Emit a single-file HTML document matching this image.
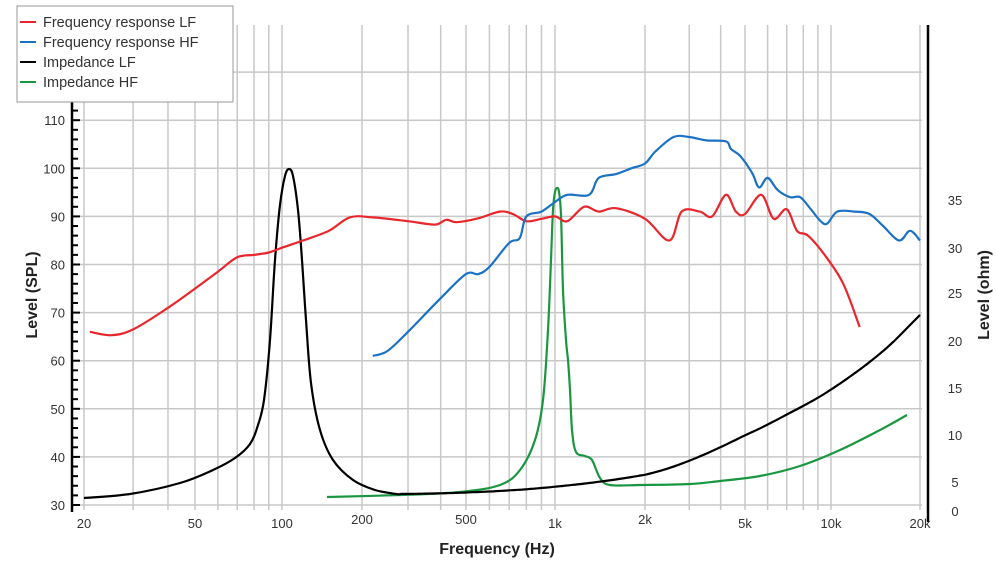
<!DOCTYPE html>
<html><head><meta charset="utf-8"><style>
body{margin:0;background:#fff;}
svg{display:block;font-family:"Liberation Sans",sans-serif;}
</style></head><body>
<svg id="s" width="996" height="564" viewBox="0 0 996 564"></svg>
<script>
const S=document.getElementById('s');
const fx=[[20,84],[50,195],[100,282],[200,362],[500,466],[1000,555],[2000,645],[5000,745],[10000,831],[20000,920]];
function X(f){for(let i=0;i<fx.length-1;i++){const[a,xa]=fx[i],[b,xb]=fx[i+1];if(f<=b||i==fx.length-2){return xa+(Math.log(f/a)/Math.log(b/a))*(xb-xa);}}}
function Y(d){return 505-(d-30)*4.81;}
let h='';
const fr=[20,30,40,50,60,70,80,90,100,200,300,400,500,600,700,800,900,1000,2000,3000,4000,5000,6000,7000,8000,9000,10000,20000];
fr.forEach(f=>{h+=`<line x1="${X(f)}" y1="25" x2="${X(f)}" y2="510" stroke="#c8c8c8" stroke-width="1.5"/>`;});
for(let d=30;d<=120;d+=10){h+=`<line x1="72" y1="${Y(d)}" x2="922" y2="${Y(d)}" stroke="#c8c8c8" stroke-width="1.5"/>`;}
h+=`<line x1="72" y1="100" x2="72" y2="512" stroke="#000" stroke-width="2.5"/>`;
for(let d=30;d<=114;d+=2){h+=`<line x1="72" y1="${Y(d)}" x2="${d%10==0?80:78}" y2="${Y(d)}" stroke="#000" stroke-width="2"/>`;}
for(let d=30;d<=110;d+=10){h+=`<text x="65" y="${Y(d)+5}" font-size="13" text-anchor="end" fill="#333">${d}</text>`;}
h+=`<line x1="928" y1="25" x2="928" y2="522" stroke="#000" stroke-width="2.5"/>`;
[[0,516],[5,487],[10,440],[15,393],[20,346],[25,298],[30,253],[35,205]].forEach(([v,y])=>{h+=`<text x="955" y="${y}" font-size="13" text-anchor="middle" fill="#333">${v}</text>`;});
[[20,'20'],[50,'50'],[100,'100'],[200,'200'],[500,'500'],[1000,'1k'],[2000,'2k'],[5000,'5k'],[10000,'10k'],[20000,'20k']].forEach(([f,t])=>{h+=`<text x="${X(f)}" y="${f==200||f==500||f==2000?524:528}" font-size="13" text-anchor="middle" fill="#333">${t}</text>`;});
h+=`<text x="497" y="554" font-size="16" font-weight="bold" text-anchor="middle" fill="#222">Frequency (Hz)</text>`;
h+=`<text transform="translate(37,295) rotate(-90)" font-size="16" font-weight="bold" text-anchor="middle" fill="#222">Level (SPL)</text>`;
h+=`<text transform="translate(989,295) rotate(-90)" font-size="16" font-weight="bold" text-anchor="middle" fill="#222">Level (ohm)</text>`;
function path(pts,c){let d=`M${pts[0][0]},${pts[0][1]}`;for(let i=0;i<pts.length-1;i++){const p0=pts[Math.max(0,i-1)],p1=pts[i],p2=pts[i+1],p3=pts[Math.min(pts.length-1,i+2)];const c1=[p1[0]+(p2[0]-p0[0])/6,p1[1]+(p2[1]-p0[1])/6],c2=[p2[0]-(p3[0]-p1[0])/6,p2[1]-(p3[1]-p1[1])/6];d+=` C${c1[0].toFixed(1)},${c1[1].toFixed(1)} ${c2[0].toFixed(1)},${c2[1].toFixed(1)} ${p2[0].toFixed(1)},${p2[1].toFixed(1)}`;}return `<path d="${d}" fill="none" stroke="${c}" stroke-width="2.2" stroke-linejoin="round"/>`;}
const fd=a=>a.map(([f,d])=>[X(f),Y(d)]);
const red=[[21,66],[25,65.3],[30,66.5],[40,71],[50,75],[60,78.5],[70,81.5],[80,82],[90,82.5],[100,83.5],[120,85],[150,87],[180,89.8],[220,89.8],[300,89],[380,88.3],[420,89.3],[460,88.8],[550,89.6],[650,91],[720,90.5],[800,89],[900,89.5],[1000,90],[1100,89],[1250,92],[1400,91],[1600,91.7],[2000,89.5],[2500,85],[2800,91],[3300,91],[3700,90],[4200,94.5],[4600,91],[5000,90.5],[5700,94.5],[6300,89.5],[7000,91.5],[7600,87],[8300,86],[9500,82],[11000,76],[12500,67]];
const blue=[[220,61],[250,62],[300,66],[400,73],[500,78],[550,78],[600,79.5],[700,84.5],[760,85.5],[800,90],[900,91],[1000,93],[1100,94.5],[1300,94.5],[1400,98],[1600,98.8],[1800,100],[2000,101],[2200,103.5],[2600,106.5],[3000,106.5],[3500,105.8],[4200,105.6],[4400,104],[4800,102.5],[5300,99],[5600,96],[6000,98],[6500,95.5],[7200,94],[7800,94],[8500,91.5],[9200,89],[9700,88.5],[10500,91],[12000,91],[13500,90.5],[15000,88],[17000,85],[18500,87],[20000,85]];
const base=[[20,31.5],[60,31.8],[200,32.2],[500,32.6],[1000,33.8],[2000,36.3],[3000,39.2],[5000,44.5],[7000,48.8],[10000,54],[15000,62],[20000,69.5]].map(([f,v])=>[Math.log(f),v]);
function bi(f){const u=Math.log(f);const n=base.length;let i=0;while(i<n-2&&u>base[i+1][0])i++;const[u0,v0]=base[i],[u1,v1]=base[i+1];const m=j=>{const a=base[Math.max(0,j-1)],b=base[Math.min(n-1,j+1)];return (b[1]-a[1])/(b[0]-a[0]);};const t=(u-u0)/(u1-u0),hh=u1-u0;const t2=t*t,t3=t2*t;return (2*t3-3*t2+1)*v0+(t3-2*t2+t)*hh*m(i)+(-2*t3+3*t2)*v1+(t3-t2)*hh*m(i+1);}
const blk=[[84,498],[130,494],[180,483],[213,470],[235,458],[250,444],[258,425],[264,400],[270,340],[275,260],[280,205],[285,176],[289,169],[293,176],[298,210],[302,260],[306,320],[311,383],[320,430],[333,460],[353,480],[375,490]];
for(let l=Math.log(270);l<Math.log(20000);l+=0.05){const f=Math.exp(l);blk.push([X(f),Y(bi(f))]);}
blk.push([X(20000),Y(bi(20000))]);
const green=[[327,497],[400,495],[460,492],[500,485],[520,470],[535,440],[543,400],[548,330],[551,260],[553,210],[555,192],[557,188],[559,192],[561,215],[563,290],[566,340],[568,360],[570,390],[572,430],[576,452],[585,456],[592,460],[600,478],[610,485],[640,485],[690,484],[720,481],[760,476],[800,466],[840,450],[880,430],[907,415]];
h+=path(green,'#1a9641');
h+=path(blk,'#000');
h+=path(fd(red),'#e8262c');
h+=path(fd(blue),'#1b72c4');
h+=`<rect x="17" y="6" width="216" height="96" fill="#fff" stroke="#999" stroke-width="1"/>`;
[['Frequency response LF','#e8262c'],['Frequency response HF','#1b72c4'],['Impedance LF','#000'],['Impedance HF','#1a9641']].forEach(([t,c],i)=>{const y=22+i*20;h+=`<line x1="20" y1="${y}" x2="36" y2="${y}" stroke="${c}" stroke-width="2"/><text x="43" y="${y+5}" font-size="14.5" fill="#333">${t}</text>`;});
S.innerHTML=h;
</script>
</body></html>
